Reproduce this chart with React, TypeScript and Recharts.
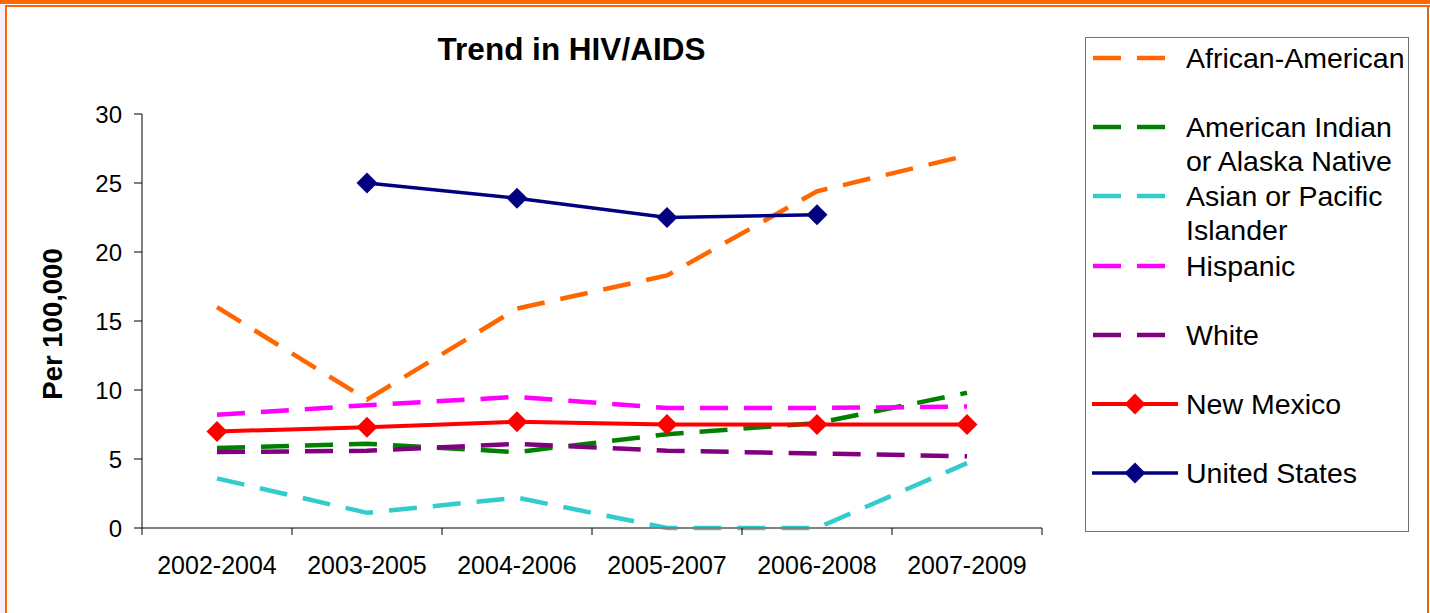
import React from 'react';
import { LineChart, Line, XAxis, YAxis, Legend } from 'recharts';

const periods = ['2002-2004', '2003-2005', '2004-2006', '2005-2007', '2006-2008', '2007-2009'];
const africanAmerican = [16.0, 9.3, 15.9, 18.3, 24.4, 27.0];
const americanIndian = [5.8, 6.1, 5.5, 6.8, 7.6, 9.8];
const asianPacific = [3.6, 1.1, 2.2, 0, 0, 4.7];
const hispanic = [8.2, 8.9, 9.5, 8.7, 8.7, 8.8];
const white = [5.5, 5.6, 6.1, 5.6, 5.4, 5.2];
const newMexico = [7.0, 7.3, 7.7, 7.5, 7.5, 7.5];
const unitedStates: (number | null)[] = [null, 25.0, 23.9, 22.5, 22.7, null];
const yTicks = [0, 5, 10, 15, 20, 25, 30];

const seriesNames = [
  'African-American',
  'American Indian or Alaska Native',
  'Asian or Pacific Islander',
  'Hispanic',
  'White',
  'New Mexico',
  'United States',
];

const data = periods.map((p, i) => ({
  x: i + 0.5,
  period: p,
  aa: africanAmerican[i],
  ai: americanIndian[i],
  as: asianPacific[i],
  hi: hispanic[i],
  wh: white[i],
  nm: newMexico[i],
  us: unitedStates[i],
}));

type S = { key: string; name: string; color: string; dashed: boolean; width: number; marker: boolean };
const series: S[] = [
  { key: 'aa', name: seriesNames[0], color: '#FF6600', dashed: true, width: 4.5, marker: false },
  { key: 'ai', name: seriesNames[1], color: '#008000', dashed: true, width: 4.5, marker: false },
  { key: 'as', name: seriesNames[2], color: '#33CCCC', dashed: true, width: 4.5, marker: false },
  { key: 'hi', name: seriesNames[3], color: '#FF00FF', dashed: true, width: 4.5, marker: false },
  { key: 'wh', name: seriesNames[4], color: '#800080', dashed: true, width: 4.5, marker: false },
  { key: 'nm', name: seriesNames[5], color: '#FF0000', dashed: false, width: 4, marker: true },
  { key: 'us', name: seriesNames[6], color: '#000080', dashed: false, width: 3.5, marker: true },
];

const FONT = '"Liberation Sans", Arial, sans-serif';
const W = 1430;
const H = 613;
const MARGIN = { top: 114, right: 388, bottom: 25, left: 82 };
const Y_AXIS_W = 60;
const PLOT_W = W - MARGIN.left - MARGIN.right - Y_AXIS_W;
const DASH = '28 16';
const R = 10.5;

const diamondPath = (cx: number, cy: number, r: number) =>
  `M${cx},${cy - r}L${cx + r},${cy}L${cx},${cy + r}L${cx - r},${cy}Z`;

const makeDot = (color: string) => (props: any) => {
  const { cx, cy, index, value } = props;
  if (value == null || !Number.isFinite(cx) || !Number.isFinite(cy)) return <g key={`d${index}`} />;
  return <path key={`d${index}`} d={diamondPath(cx, cy, R)} fill={color} stroke="none" />;
};

const renderXTick = (props: any) => {
  const { x, y, payload } = props;
  const i = Math.round(payload.value - 0.5);
  const half = PLOT_W / periods.length / 2;
  return (
    <g key={`xt${i}`}>
      <text x={x} y={y + 46} textAnchor="middle" fontSize={25} fontFamily={FONT} fill="#000">
        {periods[i]}
      </text>
      <line x1={x - half} x2={x - half} y1={y} y2={y + 7} stroke="#000" strokeWidth={1} />
      {i === periods.length - 1 ? (
        <line x1={x + half} x2={x + half} y1={y} y2={y + 7} stroke="#000" strokeWidth={1} />
      ) : null}
    </g>
  );
};

const renderLegend = () => (
  <div
    style={{
      width: 324,
      height: 495,
      boxSizing: 'border-box',
      border: '1px solid #707070',
      background: '#fff',
      overflow: 'hidden',
      paddingTop: 3,
      fontFamily: FONT,
    }}
  >
    {series.map((s) => (
      <div key={s.key} style={{ height: 69.2, display: 'flex', alignItems: 'flex-start' }}>
        <svg width={94} height={34} style={{ marginLeft: 6, flex: '0 0 auto', display: 'block' }}>
          {s.dashed ? (
            <line x1={1} x2={74} y1={17} y2={17} stroke={s.color} strokeWidth={4.5} strokeDasharray={DASH} />
          ) : (
            <g>
              <line x1={0} x2={86} y1={17} y2={17} stroke={s.color} strokeWidth={s.width} />
              <path d={diamondPath(43, 17, R)} fill={s.color} />
            </g>
          )}
        </svg>
        <div style={{ fontSize: 28.5, lineHeight: '34px', width: 222, color: '#000', whiteSpace: 'normal' }}>
          {s.name}
        </div>
      </div>
    ))}
  </div>
);

export default function App() {
  return (
    <div style={{ position: 'absolute', left: 0, top: 0, width: W, height: H, background: '#fff', overflow: 'hidden' }}>
      <LineChart width={W} height={H} data={data} margin={MARGIN}>
        <XAxis
          type="number"
          dataKey="x"
          domain={[0, periods.length]}
          ticks={periods.map((_, i) => i + 0.5)}
          interval={0}
          tick={renderXTick}
          tickLine={false}
          tickSize={0}
          tickMargin={0}
          axisLine={{ stroke: '#808080', strokeWidth: 2 }}
          height={60}
        />
        <YAxis
          type="number"
          domain={[0, 30]}
          ticks={yTicks}
          interval={0}
          width={Y_AXIS_W}
          tickSize={8}
          tickMargin={12}
          axisLine={{ stroke: '#000', strokeWidth: 1 }}
          tickLine={{ stroke: '#000', strokeWidth: 1 }}
          tick={{ fontSize: 24, fill: '#000', fontFamily: FONT }}
        />
        <Legend
          layout="vertical"
          align="center"
          verticalAlign="middle"
          wrapperStyle={{ position: 'absolute', left: 1085, top: 37, width: 324, height: 495 }}
          content={renderLegend}
        />
        {series.map((s) => (
          <Line
            key={s.key}
            type="linear"
            dataKey={s.key}
            name={s.name}
            stroke={s.color}
            strokeWidth={s.width}
            strokeDasharray={s.dashed ? DASH : undefined}
            dot={s.marker ? makeDot(s.color) : false}
            activeDot={false}
            isAnimationActive={false}
          />
        ))}
      </LineChart>
      <svg
        width={W}
        height={H}
        style={{ position: 'absolute', left: 0, top: 0, pointerEvents: 'none' }}
      >
        <text x={571.5} y={60} textAnchor="middle" fontSize={31.5} fontWeight="bold" fontFamily={FONT} fill="#000">
          Trend in HIV/AIDS
        </text>
        <text
          x={61.7}
          y={324}
          textAnchor="middle"
          fontSize={27.5}
          fontWeight="bold"
          fontFamily={FONT}
          fill="#000"
          transform="rotate(-90 61.7 324)"
        >
          Per 100,000
        </text>
      </svg>
      <div style={{ position: 'absolute', left: 0, top: 0, width: 5, height: H, background: '#F4F0FA' }} />
      <div style={{ position: 'absolute', left: 0, top: 0, width: W, height: 4, background: '#FF6600' }} />
      <div style={{ position: 'absolute', left: 5, top: 5, width: W - 5, height: 2, background: '#FF6600' }} />
      <div style={{ position: 'absolute', left: 5, top: 5, width: 2, height: H - 5, background: '#FF6600' }} />
      <div style={{ position: 'absolute', left: W - 3, top: 5, width: 2, height: H - 5, background: '#E0661A' }} />
    </div>
  );
}
